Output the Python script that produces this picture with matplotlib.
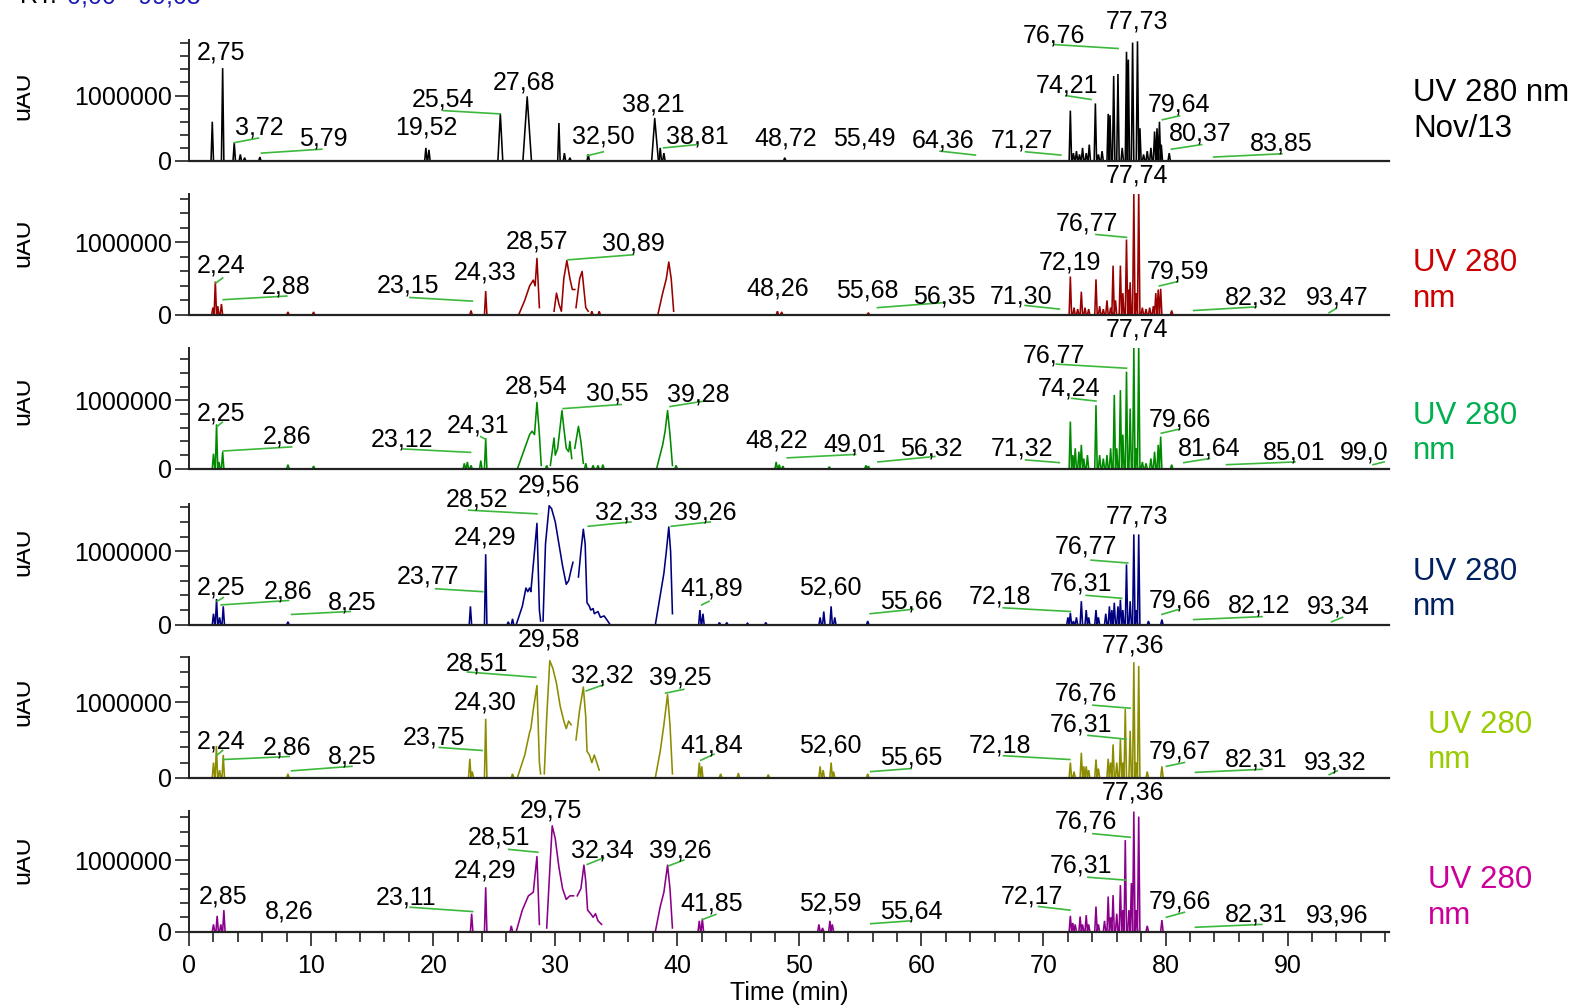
import numpy as np
import matplotlib.pyplot as plt
from matplotlib.ticker import MultipleLocator, FixedLocator, ScalarFormatter

plt.rcParams['font.family'] = ['Liberation Sans', 'DejaVu Sans']

# ---------------- data (retention time in min, intensity in millions uAU) -------------
# narrow peaks: apex time / height
p1_rt = [1.9, 2.75, 3.7, 4.2, 4.55, 5.8, 19.4, 19.65, 30.3, 30.75, 31.2, 32.7, 38.6, 38.9, 48.8,
         72.2, 72.45, 72.7, 72.95, 73.2, 73.5, 73.75, 74.25, 74.5, 74.8, 75.3, 75.45, 75.75, 76.1,
         76.45, 76.8, 76.95, 77.3, 77.7, 77.9, 78.2, 78.5, 78.8, 79.1, 79.3, 79.5, 79.65, 80.3]
p1_h = [0.6, 1.42, 0.28, 0.1, 0.05, 0.06, 0.2, 0.17, 0.58, 0.12, 0.05, 0.1, 0.2, 0.12, 0.05,
        0.77, 0.12, 0.15, 0.1, 0.2, 0.12, 0.25, 0.88, 0.1, 0.15, 0.72, 0.7, 1.3, 1.33,
        0.2, 1.67, 1.55, 1.81, 1.83, 0.5, 0.1, 0.15, 0.2, 0.45, 0.5, 0.6, 0.25, 0.12]
p1_bands = [[(25.3, 0), (25.5, 0.72), (25.7, 0)],
            [(27.35, 0), (27.7, 0.98), (28.05, 0)],
            [(37.9, 0), (38.15, 0.65), (38.45, 0)]]

p2_rt = [1.95, 2.15, 2.35, 2.65, 8.1, 10.2, 23.1, 24.3, 33.0, 33.6, 48.2, 48.55, 55.65,
         72.2, 72.5, 72.8, 73.1, 73.4, 73.7, 74.3, 74.6, 74.9, 75.2, 75.5, 75.7, 75.9, 76.3,
         76.5, 76.8, 77.0, 77.1, 77.4, 77.6, 77.8, 78.1, 78.4, 78.7, 79.0, 79.2, 79.4, 79.6, 80.5]
p2_h = [0.1, 0.46, 0.12, 0.15, 0.04, 0.04, 0.06, 0.33, 0.05, 0.05, 0.05, 0.04, 0.03,
        0.53, 0.1, 0.08, 0.32, 0.1, 0.08, 0.49, 0.12, 0.08, 0.2, 0.1, 0.68, 0.2, 0.68,
        0.3, 1.04, 0.35, 0.45, 1.67, 0.3, 1.71, 0.1, 0.08, 0.1, 0.12, 0.3, 0.35, 0.36, 0.06]
p2_bands = [[(27.0, 0), (27.5, 0.2), (27.9, 0.4), (28.2, 0.48), (28.35, 0.4), (28.5, 0.78), (28.7, 0.1)],
            [(29.9, 0.05), (30.1, 0.3), (30.3, 0.15), (30.5, 0.05), (30.7, 0.5), (30.95, 0.75),
             (31.2, 0.5), (31.4, 0.35), (31.6, 0.35)],
            [(31.7, 0.1), (32.0, 0.5), (32.2, 0.6), (32.5, 0.1), (32.7, 0.05)],
            [(38.4, 0), (38.8, 0.3), (39.1, 0.5), (39.3, 0.73), (39.5, 0.5), (39.7, 0.05)]]

p3_rt = [2.0, 2.25, 2.45, 2.75, 8.1, 10.2, 22.55, 22.8, 23.1, 23.9, 24.3, 29.3, 32.5, 33.1, 33.5,
         33.9, 39.9, 48.1, 48.35, 48.65, 52.45, 55.45, 55.65,
         72.2, 72.4, 72.6, 72.9, 73.1, 73.3, 73.6, 74.3, 74.6, 74.9, 75.2, 75.5, 75.8, 76.0, 76.3,
         76.5, 76.8, 77.1, 77.4, 77.6, 77.8, 78.1, 78.4, 78.8, 79.1, 79.4, 79.6, 80.5]
p3_h = [0.22, 0.65, 0.1, 0.25, 0.06, 0.04, 0.08, 0.1, 0.05, 0.12, 0.45, 0.05, 0.08, 0.05, 0.05,
        0.06, 0.05, 0.1, 0.06, 0.04, 0.03, 0.05, 0.04,
        0.69, 0.2, 0.3, 0.25, 0.35, 0.15, 0.2, 0.93, 0.2, 0.15, 0.2, 0.3, 1.08, 0.3, 1.15,
        0.5, 1.42, 0.88, 1.78, 0.3, 1.81, 0.1, 0.08, 0.15, 0.25, 0.35, 0.47, 0.06]
p3_bands = [[(26.9, 0), (27.5, 0.3), (27.9, 0.5), (28.1, 0.55), (28.3, 0.5), (28.5, 0.97), (28.7, 0.5), (28.85, 0.05)],
            [(29.6, 0.05), (29.9, 0.45), (30.0, 0.2), (30.2, 0.3), (30.55, 0.85), (30.7, 0.6),
             (30.9, 0.3), (31.1, 0.25), (31.2, 0.4), (31.35, 0.15)],
            [(31.6, 0.3), (31.9, 0.62), (32.1, 0.4), (32.3, 0.08)],
            [(38.3, 0), (38.8, 0.35), (39.0, 0.55), (39.2, 0.85), (39.4, 0.5), (39.6, 0.05)]]

p4_rt = [2.0, 2.25, 2.5, 2.8, 8.1, 23.05, 24.3, 26.15, 26.5, 41.85, 42.1, 43.45, 44.05, 45.75, 47.25,
         51.7, 52.0, 52.6, 52.9, 55.6,
         72.0, 72.2, 72.45, 72.7, 73.1, 73.5, 73.7, 74.3, 74.5, 75.1, 75.4, 75.6, 75.8, 76.1, 76.3,
         76.5, 76.8, 77.1, 77.4, 77.6, 77.8, 78.6, 79.7]
p4_h = [0.15, 0.35, 0.1, 0.25, 0.04, 0.25, 0.96, 0.04, 0.08, 0.2, 0.15, 0.03, 0.03, 0.02, 0.03,
        0.1, 0.18, 0.25, 0.1, 0.05,
        0.1, 0.16, 0.05, 0.1, 0.32, 0.2, 0.1, 0.2, 0.1, 0.15, 0.25, 0.2, 0.3, 0.25, 0.34,
        0.2, 0.82, 0.32, 1.23, 0.2, 1.23, 0.05, 0.07]
p4_bands = [[(26.8, 0), (27.3, 0.25), (27.6, 0.5), (27.75, 0.45), (27.9, 0.5), (28.0, 0.45), (28.3, 1.0),
             (28.5, 1.38), (28.7, 0.2), (28.8, 0.05)],
            [(29.0, 0.05), (29.2, 1.1), (29.5, 1.62), (29.7, 1.58), (30.0, 1.4), (30.3, 1.1), (30.6, 0.8),
             (30.9, 0.55), (31.1, 0.6), (31.3, 0.75), (31.45, 0.85)],
            [(31.9, 0.65), (32.1, 1.0), (32.3, 1.3), (32.45, 1.1), (32.6, 0.3), (32.8, 0.25), (32.9, 0.2),
             (33.1, 0.22), (33.2, 0.15), (33.5, 0.18), (33.7, 0.1), (34.0, 0.12), (34.3, 0.05), (34.5, 0.0)],
            [(38.2, 0), (38.6, 0.4), (38.9, 0.7), (39.1, 1.0), (39.3, 1.33), (39.45, 1.0), (39.6, 0.15)]]

p5_rt = [2.0, 2.24, 2.5, 2.8, 8.1, 23.0, 23.2, 24.3, 26.5, 41.8, 42.0, 43.55, 45.0, 47.45,
         51.7, 51.95, 52.6, 52.8, 55.6,
         72.2, 72.5, 73.1, 73.3, 73.5, 73.7, 74.3, 74.5, 75.3, 75.5, 75.7, 76.0, 76.3, 76.5, 76.7,
         77.1, 77.4, 77.6, 77.8, 78.5, 79.7]
p5_h = [0.2, 0.42, 0.1, 0.3, 0.05, 0.25, 0.08, 0.78, 0.05, 0.2, 0.15, 0.05, 0.06, 0.04,
        0.15, 0.1, 0.2, 0.08, 0.05,
        0.2, 0.08, 0.33, 0.15, 0.15, 0.1, 0.24, 0.12, 0.25, 0.2, 0.44, 0.2, 0.51, 0.2, 0.91,
        0.62, 1.53, 0.2, 1.48, 0.08, 0.15]
p5_bands = [[(26.9, 0), (27.5, 0.3), (27.9, 0.6), (28.0, 0.65), (28.2, 0.9), (28.5, 1.22), (28.7, 0.2), (28.8, 0.05)],
            [(29.1, 0.05), (29.3, 0.8), (29.55, 1.55), (29.8, 1.45), (30.1, 1.25), (30.4, 0.95), (30.7, 0.75),
             (30.9, 0.65), (31.1, 0.75), (31.3, 0.7)],
            [(31.7, 0.5), (32.0, 0.9), (32.3, 1.2), (32.5, 0.8), (32.6, 0.35), (32.8, 0.3), (33.0, 0.2),
             (33.2, 0.3), (33.4, 0.2), (33.6, 0.1)],
            [(38.2, 0), (38.6, 0.35), (38.9, 0.7), (39.2, 1.1), (39.4, 0.7), (39.6, 0.05)]]

p6_rt = [2.0, 2.3, 2.6, 2.85, 23.15, 24.3, 26.4, 41.8, 42.05, 51.6, 51.9, 52.5, 52.7,
         72.2, 72.4, 72.6, 73.0, 73.2, 73.5, 73.7, 74.3, 74.5, 75.0, 75.3, 75.5, 75.7, 76.0, 76.3,
         76.5, 76.7, 77.0, 77.2, 77.4, 77.6, 77.8, 78.5, 79.7]
p6_h = [0.1, 0.22, 0.1, 0.3, 0.25, 0.62, 0.08, 0.15, 0.18, 0.1, 0.05, 0.15, 0.1,
        0.22, 0.12, 0.1, 0.21, 0.1, 0.23, 0.1, 0.35, 0.1, 0.15, 0.49, 0.2, 0.51, 0.25, 0.65,
        0.3, 1.28, 0.3, 0.68, 1.68, 0.3, 1.61, 0.08, 0.16]
p6_bands = [[(26.8, 0), (27.3, 0.3), (27.8, 0.5), (28.2, 0.55), (28.5, 1.05), (28.7, 0.1)],
            [(29.3, 0.05), (29.5, 0.7), (29.75, 1.48), (30.0, 1.3), (30.3, 0.9), (30.6, 0.6), (30.9, 0.45),
             (31.2, 0.5), (31.5, 0.5)],
            [(31.8, 0.5), (32.1, 0.6), (32.35, 0.93), (32.5, 0.7), (32.65, 0.3), (32.9, 0.25), (33.1, 0.2),
             (33.3, 0.25), (33.5, 0.15), (33.8, 0.1)],
            [(38.2, 0), (38.6, 0.35), (38.9, 0.55), (39.2, 0.93), (39.4, 0.6), (39.6, 0.05)]]

# peak annotations: text, text x, text y, leader line (x0, y0, x1, y1) or None
p1_labels = [("2,75", 2.64, 1.66, None),
             ("3,72", 5.77, 0.51, (3.71, 0.28, 5.68, 0.35)),
             ("5,79", 10.96, 0.34, (5.93, 0.12, 10.87, 0.18)),
             ("19,52", 19.44, 0.51, None),
             ("25,54", 20.84, 0.94, (20.84, 0.77, 25.45, 0.72)),
             ("27,68", 27.43, 1.2, None),
             ("32,50", 33.94, 0.38, (32.62, 0.08, 33.94, 0.14)),
             ("38,21", 38.06, 0.86, None),
             ("38,81", 41.68, 0.38, (38.88, 0.2, 41.6, 0.25)),
             ("48,72", 48.85, 0.35, None),
             ("55,49", 55.35, 0.34, None),
             ("64,36", 61.78, 0.31, (61.53, 0.15, 64.42, 0.09)),
             ("71,27", 68.2, 0.32, (68.53, 0.14, 71.42, 0.09)),
             ("74,21", 71.91, 1.15, (71.83, 1.0, 73.89, 0.94)),
             ("76,76", 70.84, 1.92, (70.84, 1.78, 76.11, 1.72)),
             ("77,73", 77.68, 2.14, None),
             ("79,64", 81.14, 0.86, (79.74, 0.63, 81.14, 0.69)),
             ("80,37", 82.87, 0.42, (80.48, 0.18, 82.95, 0.25)),
             ("83,85", 89.46, 0.26, (83.94, 0.06, 89.54, 0.11))]

p2_labels = [("2,24", 2.64, 0.68, (2.2, 0.44, 2.75, 0.51)),
             ("2,88", 7.99, 0.39, (2.8, 0.21, 8.0, 0.26)),
             ("23,15", 17.96, 0.40, (18.1, 0.24, 23.2, 0.19)),
             ("24,33", 24.22, 0.58, None),
             ("28,57", 28.5, 1.01, None),
             ("30,89", 36.41, 0.99, (31.05, 0.76, 36.4, 0.83)),
             ("48,26", 48.19, 0.36, None),
             ("55,68", 55.6, 0.33, None),
             ("56,35", 61.86, 0.26, (56.4, 0.10, 61.9, 0.17)),
             ("71,30", 68.2, 0.26, (68.5, 0.13, 71.3, 0.08)),
             ("72,19", 72.16, 0.72, None),
             ("76,77", 73.56, 1.26, (74.3, 1.11, 76.8, 1.07)),
             ("77,74", 77.68, 1.93, None),
             ("79,59", 81.05, 0.6, (79.5, 0.40, 81.0, 0.46)),
             ("82,32", 87.4, 0.24, (82.3, 0.06, 87.4, 0.11)),
             ("93,47", 94.04, 0.24, (93.4, 0.03, 94.0, 0.09))]

p3_labels = [("2,25", 2.64, 0.81, (2.31, 0.62, 2.72, 0.68)),
             ("2,86", 7.99, 0.47, (2.8, 0.26, 8.4, 0.32)),
             ("23,12", 17.46, 0.43, (17.54, 0.29, 23.06, 0.24)),
             ("24,31", 23.64, 0.63, (23.9, 0.47, 24.3, 0.43)),
             ("28,54", 28.42, 1.21, None),
             ("30,55", 35.09, 1.1, (30.64, 0.88, 35.4, 0.94)),
             ("39,28", 41.68, 1.09, (39.4, 0.91, 42.2, 0.99)),
             ("48,22", 48.11, 0.41, None),
             ("49,01", 54.53, 0.35, (49.01, 0.16, 54.6, 0.21)),
             ("56,32", 60.79, 0.29, (56.43, 0.10, 61.1, 0.18)),
             ("71,32", 68.2, 0.29, (68.53, 0.13, 71.3, 0.09)),
             ("74,24", 72.08, 1.18, (72.3, 1.03, 74.3, 0.99)),
             ("76,77", 70.84, 1.66, (71.05, 1.53, 76.8, 1.47)),
             ("77,74", 77.68, 2.03, None),
             ("79,66", 81.14, 0.72, (79.65, 0.52, 81.14, 0.58)),
             ("81,64", 83.61, 0.29, (81.5, 0.09, 83.6, 0.15)),
             ("85,01", 90.53, 0.24, (85.0, 0.06, 90.6, 0.10)),
             ("99,0", 96.29, 0.24, (97.0, 0.06, 97.9, 0.1))]

p4_labels = [("2,25", 2.64, 0.51, (2.3, 0.32, 2.8, 0.37)),
             ("2,86", 8.07, 0.45, (2.64, 0.27, 8.15, 0.33)),
             ("8,25", 13.34, 0.30, (8.4, 0.14, 13.2, 0.18)),
             ("23,77", 19.6, 0.66, (20.2, 0.49, 24.05, 0.45)),
             ("24,29", 24.22, 1.19, None),
             ("28,52", 23.6, 1.70, (22.9, 1.56, 28.5, 1.51)),
             ("29,56", 29.49, 1.9, None),
             ("32,33", 35.83, 1.53, (32.7, 1.34, 36.2, 1.40)),
             ("39,26", 42.26, 1.53, (39.5, 1.34, 42.7, 1.40)),
             ("41,89", 42.83, 0.49, (42.0, 0.27, 42.6, 0.32)),
             ("52,60", 52.55, 0.51, None),
             ("55,66", 59.14, 0.32, (55.8, 0.15, 59.3, 0.21)),
             ("72,18", 66.47, 0.38, (66.7, 0.23, 72.2, 0.18)),
             ("76,31", 73.06, 0.56, (73.5, 0.40, 76.4, 0.36)),
             ("76,77", 73.48, 1.07, (73.9, 0.88, 76.9, 0.84)),
             ("77,73", 77.68, 1.47, None),
             ("79,66", 81.14, 0.33, (79.7, 0.14, 81.1, 0.21)),
             ("82,12", 87.64, 0.26, (82.3, 0.07, 87.9, 0.11)),
             ("93,34", 94.15, 0.25, (93.6, 0.04, 94.5, 0.10))]

p5_labels = [("2,24", 2.64, 0.48, (2.3, 0.3, 2.75, 0.36)),
             ("2,86", 7.99, 0.4, (2.8, 0.24, 8.2, 0.28)),
             ("8,25", 13.34, 0.28, (8.4, 0.09, 13.34, 0.15)),
             ("23,75", 20.1, 0.53, (20.5, 0.40, 24.0, 0.36)),
             ("24,30", 24.22, 0.99, None),
             ("28,51", 23.56, 1.51, (22.8, 1.4, 28.4, 1.33)),
             ("29,58", 29.49, 1.83, None),
             ("32,32", 33.86, 1.35, (32.54, 1.15, 33.94, 1.23)),
             ("39,25", 40.2, 1.33, (39.04, 1.12, 40.53, 1.17)),
             ("41,84", 42.83, 0.43, (41.93, 0.23, 43.0, 0.31)),
             ("52,60", 52.55, 0.43, None),
             ("55,65", 59.14, 0.27, (55.85, 0.08, 59.14, 0.12)),
             ("72,18", 66.47, 0.43, (66.72, 0.29, 72.16, 0.24)),
             ("76,31", 73.06, 0.71, (73.64, 0.56, 76.77, 0.51)),
             ("76,76", 73.48, 1.12, (74.05, 0.96, 77.1, 0.92)),
             ("77,36", 77.35, 1.75, None),
             ("79,67", 81.14, 0.35, (80.07, 0.15, 81.55, 0.2)),
             ("82,31", 87.4, 0.24, (82.45, 0.07, 87.89, 0.11)),
             ("93,32", 93.9, 0.2, (93.41, 0.04, 94.07, 0.09))]

p6_labels = [("2,85", 2.8, 0.49, None),
             ("8,26", 8.24, 0.28, None),
             ("23,11", 17.79, 0.48, (18.12, 0.34, 23.23, 0.28)),
             ("24,29", 24.22, 0.85, None),
             ("28,51", 25.37, 1.31, (26.19, 1.15, 28.58, 1.11)),
             ("29,75", 29.65, 1.70, None),
             ("32,34", 33.86, 1.14, (32.62, 0.94, 33.94, 1.03)),
             ("39,26", 40.2, 1.14, (39.29, 0.92, 40.53, 1.0)),
             ("41,85", 42.83, 0.39, (42.09, 0.17, 43.16, 0.24)),
             ("52,59", 52.55, 0.39, None),
             ("55,64", 59.14, 0.28, (55.85, 0.11, 59.14, 0.15)),
             ("72,17", 69.03, 0.49, (69.6, 0.35, 72.16, 0.3)),
             ("76,31", 73.06, 0.92, (73.64, 0.76, 76.77, 0.72)),
             ("76,76", 73.48, 1.54, (74.05, 1.37, 77.1, 1.32)),
             ("77,36", 77.35, 1.94, None),
             ("79,66", 81.14, 0.42, (80.07, 0.2, 81.55, 0.27)),
             ("82,31", 87.4, 0.24, (82.45, 0.06, 87.89, 0.1)),
             ("93,96", 94.07, 0.23, None)]

trace_names = ["UV 280 nm\nNov/13", "UV 280\nnm", "UV 280\nnm", "UV 280\nnm", "UV 280\nnm", "UV 280\nnm"]

# ---------------- styling / layout ---------------------------------------
trace_colors = ['black', '#990000', '#008a00', '#00007f', '#8c8c00', '#8b008b']
name_colors = ['black', '#cc0000', '#00b050', '#002060', '#99cc00', '#cc0099']
leader_color = '#3cb83c'
W, H = 1568, 1002           # layout grid of the reference (px)
panel_base = [160, 313, 466, 621, 773, 926]
px_per_million = [65, 72, 68, 73, 75, 71]
name_x = [1405, 1405, 1405, 1405, 1420, 1420]
name_y = [110, 279, 431, 586, 738, 893]
panel_px = 120
HW = 0.1  # half-width of a spike (min)
FS = 18

rts = [p1_rt, p2_rt, p3_rt, p4_rt, p5_rt, p6_rt]
hs = [p1_h, p2_h, p3_h, p4_h, p5_h, p6_h]
bands = [p1_bands, p2_bands, p3_bands, p4_bands, p5_bands, p6_bands]
labels = [p1_labels, p2_labels, p3_labels, p4_labels, p5_labels, p6_labels]

M = 1e6
fig = plt.figure(figsize=(15.77, 10.08), dpi=100)
x0 = 188 / W
xw = (1381 - 188) / W

for i in range(6):
    ax = fig.add_axes([x0, 1 - panel_base[i] / H, xw, panel_px / H])
    col = trace_colors[i]

    # spikes
    xs, ys = [], []
    for t, h in zip(rts[i], hs[i]):
        xs += [t - HW, t, t + HW, np.nan]
        ys += [0, h * M, 0, np.nan]
    ax.plot(xs, ys, color=col, lw=1.15, solid_joinstyle='miter')
    # broad features
    for b in bands[i]:
        bx, by = zip(*b)
        ax.plot(bx, np.array(by) * M, color=col, lw=1.15)

    # peak labels
    for txt, tx, ty, lead in labels[i]:
        ax.text(tx, ty * M, txt, ha='center', va='center', fontsize=FS, color='black')
        if lead is not None:
            ax.plot([lead[0], lead[2]], [lead[1] * M, lead[3] * M], color=leader_color,
                    lw=1.2, clip_on=False)

    ax.set_xlim(0, 98.3)
    ax.set_ylim(0, panel_px / px_per_million[i] * M)
    for s in ['top', 'right']:
        ax.spines[s].set_visible(False)
    ax.spines['left'].set_linewidth(1.4)
    ax.spines['bottom'].set_linewidth(1.6)
    ax.spines['left'].set_color('#222222')
    ax.spines['bottom'].set_color('#222222')

    ax.yaxis.set_major_locator(FixedLocator([0, 1000000]))
    ax.yaxis.set_minor_locator(MultipleLocator(200000))
    fmt = ScalarFormatter(useOffset=False)
    fmt.set_scientific(False)
    ax.yaxis.set_major_formatter(fmt)
    ax.tick_params(axis='y', which='major', direction='out', length=10, width=1.2,
                   labelsize=FS, pad=2, color='#222222')
    ax.tick_params(axis='y', which='minor', direction='out', length=6.5, width=1.2, color='#222222')

    if i == 5:
        ax.xaxis.set_major_locator(MultipleLocator(10))
        ax.xaxis.set_minor_locator(MultipleLocator(2))
        ax.tick_params(axis='x', which='major', direction='out', length=10, width=1.2,
                       labelsize=FS, pad=6, color='#222222')
        ax.tick_params(axis='x', which='minor', direction='out', length=7, width=1.2, color='#222222')
        ax.set_xlabel('Time (min)', fontsize=FS, labelpad=2)
    else:
        ax.tick_params(axis='x', which='both', bottom=False, labelbottom=False)

    # right hand trace name
    fig.text(name_x[i] / W, 1 - name_y[i] / H, trace_names[i], ha='left', va='center',
             fontsize=22.5, color=name_colors[i], linespacing=1.25)

    # clipped y-axis unit label at the far left
    one_m = panel_base[i] - px_per_million[i]
    lab = fig.add_axes([17 / W, 1 - (one_m + 40) / H, 25 / W, 80 / H])
    lab.axis('off')
    lab.text(5.5 / 25, 0.5, 'uAU', rotation=90, ha='center', va='center', fontsize=FS,
             transform=lab.transAxes, clip_on=True)

# header, mostly cut off at the top edge (as in the reference)
fig.text(20 / W, 1 - 3 / H, 'RT:', fontsize=FS, va='baseline', ha='left')
fig.text(67 / W, 1 - 3 / H, '0,00 - 99,05', fontsize=FS, va='baseline', ha='left', color='#1a1ab4')

fig.savefig('out.png', dpi=100)
